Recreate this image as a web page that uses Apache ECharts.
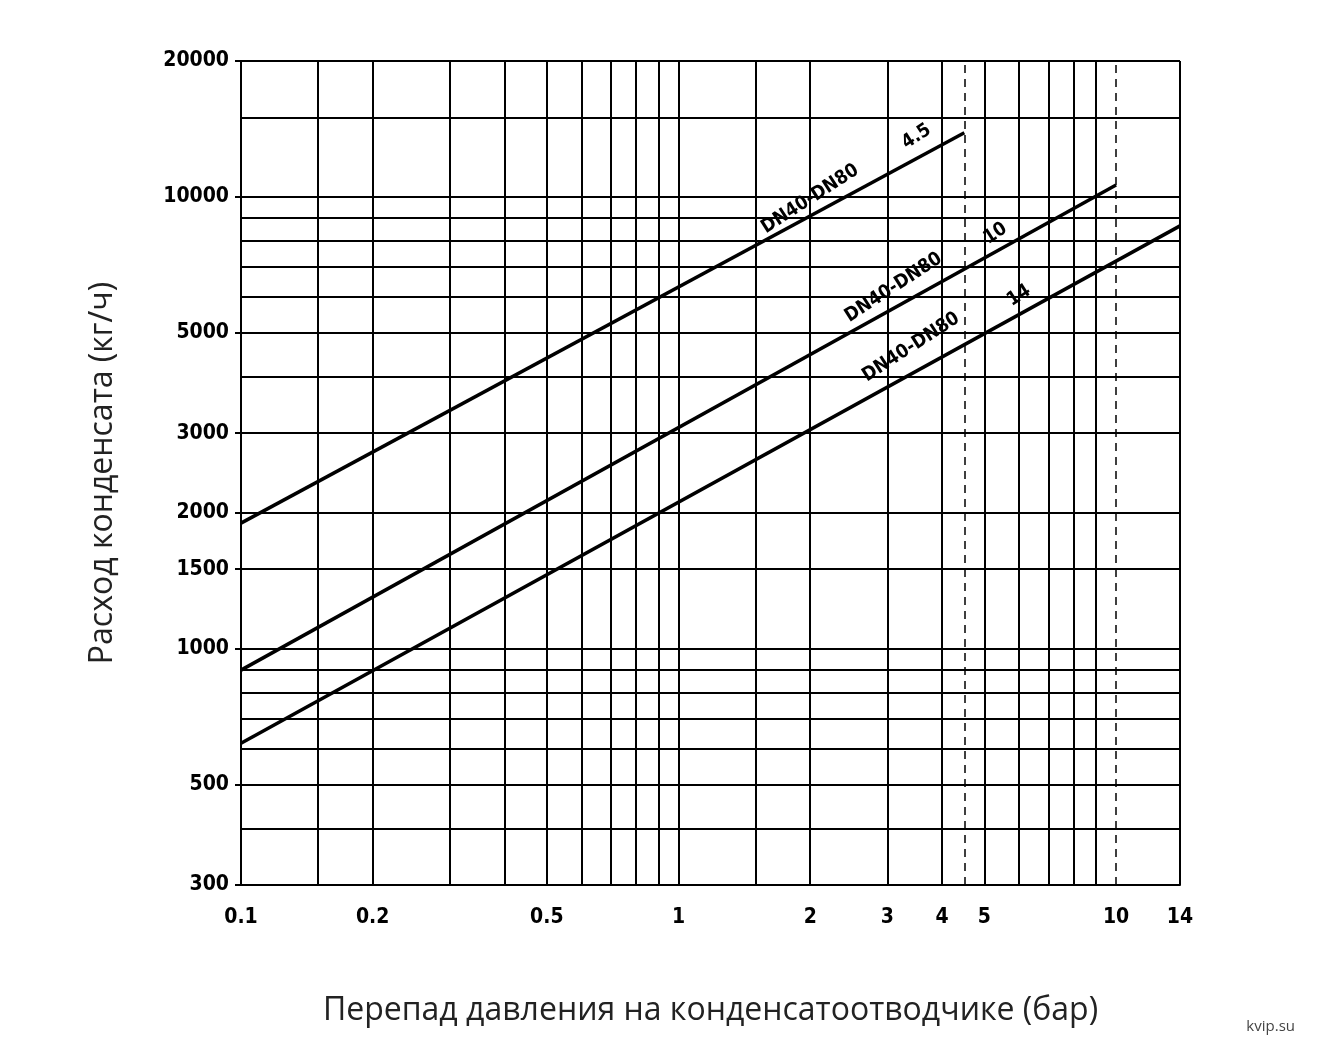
<!DOCTYPE html>
<html><head><meta charset="utf-8">
<script src="https://cdn.jsdelivr.net/npm/echarts@6/dist/echarts.min.js"></script>
<style>html,body{margin:0;background:#fff}#c{width:1333px;height:1064px}</style>
</head><body><div id="c"></div>
<script>
const xTickLabels=[0.1,0.2,0.5,1,2,3,4,5,10,14];
const yTickLabels=[300,500,1000,1500,2000,3000,5000,10000,20000];
const xGrid=[0.15,0.2,0.3,0.4,0.5,0.6,0.7,0.8,0.9,1,1.5,2,3,4,5,6,7,8,9,14];
const xDashed=[4.5,10];
const yGrid=[400,500,600,700,800,900,1000,1500,2000,3000,4000,5000,6000,7000,8000,9000,10000,15000,20000];
const line45=[[0.1,1897],[4.5,13870]];
const line10=[[0.1,897],[10,10630]];
const line14=[[0.1,618],[14,8630]];
const annotations=[
 {name:'DN40-DN80',value:[2.0,9900]},{name:'4.5',value:[3.5,13600]},
 {name:'DN40-DN80',value:[3.1,6300]},{name:'10',value:[5.3,8300]},
 {name:'DN40-DN80',value:[3.4,4650]},{name:'14',value:[6.0,6050]}
];
const F='"DejaVu Sans Condensed", "DejaVu Sans", sans-serif';
const ch=echarts.init(document.getElementById('c'));
const lineS=d=>({type:'line',data:d,symbol:'none',lineStyle:{color:'#000',width:3.5},z:5,silent:true});
ch.setOption({
 animation:false,
 grid:{left:241,right:153,top:61,bottom:179},
 xAxis:{type:'log',logBase:10,min:0.1,max:14,
  name:'Перепад давления на конденсатоотводчике (бар)',nameLocation:'middle',nameGap:110,
  nameTextStyle:{fontFamily:'"Open Sans", sans-serif',fontSize:32,color:'#222'},
  axisLine:{lineStyle:{color:'#000',width:2}},
  axisTick:{show:false},
  axisLabel:{customValues:xTickLabels,formatter:v=>String(v),fontFamily:F,fontWeight:'bold',fontSize:21,color:'#000',margin:22},
  splitLine:{show:false}},
 yAxis:{type:'log',logBase:10,min:300,max:20000,
  name:'Расход конденсата (кг/ч)',nameLocation:'middle',nameGap:122,
  nameTextStyle:{fontFamily:'"Open Sans", sans-serif',fontSize:32,color:'#222'},
  axisLine:{lineStyle:{color:'#000',width:2}},
  axisTick:{customValues:yTickLabels,length:6,lineStyle:{color:'#000',width:2}},
  axisLabel:{customValues:yTickLabels,formatter:v=>String(v),fontFamily:F,fontWeight:'bold',fontSize:21,color:'#000',margin:12},
  splitLine:{show:false}},
 graphic:[{type:'text',right:38,bottom:30,style:{text:'kvip.su',font:'15px "Open Sans", sans-serif',fill:'#444'}}],
 series:[
  {type:'line',data:[],silent:true,markLine:{silent:true,symbol:'none',label:{show:false},
   lineStyle:{color:'#000',width:2,type:'solid'},
   data:xGrid.map(v=>({xAxis:v})).concat(yGrid.map(v=>({yAxis:v})))}},
  {type:'line',data:[],silent:true,markLine:{silent:true,symbol:'none',label:{show:false},
   lineStyle:{color:'#000',width:1.5,type:[8,6]},data:xDashed.map(v=>({xAxis:v}))}},
  lineS(line45),lineS(line10),lineS(line14),
  {type:'scatter',data:annotations,symbolSize:0,z:6,silent:true,
   label:{show:true,position:'inside',formatter:p=>p.name,rotate:33,fontFamily:F,fontWeight:'bold',fontSize:19,color:'#000',opacity:1}}
 ]
});
</script></body></html>
